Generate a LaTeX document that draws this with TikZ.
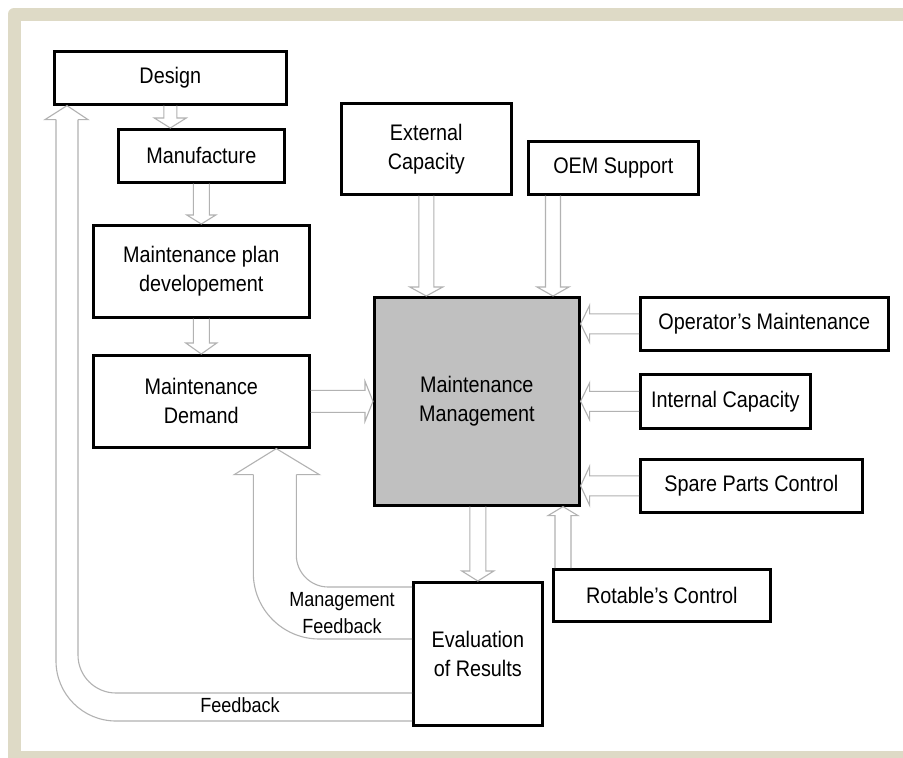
\documentclass[tikz,border=0pt]{standalone}
\usepackage{fontspec}
\setmainfont[FakeStretch=0.88]{Liberation Sans}
\usetikzlibrary{calc}

\definecolor{framebeige}{RGB}{222,218,198}
\definecolor{mgmtgray}{RGB}{192,192,192}
\definecolor{arrowgray}{RGB}{178,178,178}

% hollow block arrow from coordinate #1 to tip coordinate #2
% #3 half shaft width, #4 half head width, #5 head length
\newcommand\blockarrow[5]{%
  \path ($(#2)!#5!(#1)$) coordinate (ba-h);
  \draw[barrow] ($(#1)!#3!90:(#2)$) -- ($(ba-h)!#3!90:(#2)$)
    -- ($(ba-h)!#4!90:(#2)$) -- (#2) -- ($(ba-h)!#4!-90:(#2)$)
    -- ($(ba-h)!#3!-90:(#2)$) -- ($(#1)!#3!-90:(#2)$);
}

\begin{document}
\begin{tikzpicture}[x=1pt,y=-1pt,
  box/.style={draw=black, line width=2.6pt, fill=white, align=center,
    inner sep=0pt, anchor=north west,
    font=\fontsize{22.5}{29}\selectfont},
  lbl/.style={align=center, inner sep=0pt,
    font=\fontsize{20.5}{26.5}\selectfont},
  barrow/.style={draw=arrowgray, line width=1.1pt, line join=miter}]

\useasboundingbox (0,0) rectangle (903,758);
\clip (0,0) rectangle (903,758);

% frame: beige border open to the right, white sheet inside
\fill[framebeige, rounded corners=6pt] (8,8) rectangle (960,800);
\fill[white] (21,21) rectangle (903,751);

% boxes
\node[box, minimum width=232pt, minimum height=53pt] (design) at (53,50) {Design};
\node[box, minimum width=166pt, minimum height=53pt] (manuf) at (117,128) {Manufacture};
\node[box, minimum width=216pt, minimum height=92pt] (plan) at (92,224) {Maintenance plan\\developement};
\node[box, minimum width=216pt, minimum height=92pt] (demand) at (92,354) {Maintenance\\Demand};
\node[box, minimum width=170pt, minimum height=91pt] (ext) at (340,102) {External\\Capacity};
\node[box, minimum width=170pt, minimum height=53pt] (oem) at (527,140) {OEM Support};
\node[box, fill=mgmtgray, minimum width=205pt, minimum height=208pt] (mm) at (373,296) {Maintenance\\Management};
\node[box, minimum width=248pt, minimum height=53pt] (op) at (639,296) {Operator’s Maintenance};
\node[box, minimum width=170pt, minimum height=54pt] (int) at (639,373) {Internal Capacity};
\node[box, minimum width=222pt, minimum height=53pt] (spare) at (639,458) {Spare Parts Control};
\node[box, minimum width=217pt, minimum height=52pt] (rot) at (552,568) {Rotable’s Control};
\node[box, minimum width=129pt, minimum height=143pt] (eval) at (412,581) {Evaluation\\of Results};

% end points of the straight block arrows
\coordinate (dm-s) at (design.south);
\coordinate (dm-t) at (design.south |- manuf.north);
\coordinate (oem-s) at ($(oem.south west)+(26,0)$);
\coordinate (oem-t) at (oem-s |- mm.north);
\coordinate (rot-s) at ($(rot.north west)+(11,0)$);
\coordinate (rot-t) at (rot-s |- mm.south);
\coordinate (ext-t) at (ext.south |- mm.north);
\coordinate (op-t) at (mm.east |- op.west);
\coordinate (int-t) at (mm.east |- int.west);
\coordinate (spare-t) at (mm.east |- spare.west);
\coordinate (dem-t) at (mm.west |- demand.east);
\coordinate (ev-s) at (eval.north |- mm.south);

\blockarrow{dm-s}{dm-t}{6.5pt}{16pt}{10pt}
\blockarrow{manuf.south}{plan.north}{8pt}{14.5pt}{9pt}
\blockarrow{plan.south}{demand.north}{8pt}{15.5pt}{11pt}
\blockarrow{ext.south}{ext-t}{7.5pt}{16.5pt}{9pt}
\blockarrow{oem-s}{oem-t}{7.5pt}{16pt}{9pt}
\blockarrow{op.west}{op-t}{10pt}{18.5pt}{9pt}
\blockarrow{int.west}{int-t}{10pt}{18.5pt}{9pt}
\blockarrow{spare.west}{spare-t}{10pt}{19.5pt}{9pt}
\blockarrow{demand.east}{dem-t}{11pt}{20pt}{8pt}
\blockarrow{ev-s}{eval.north}{8pt}{16pt}{10pt}
\blockarrow{rot-s}{rot-t}{8pt}{15pt}{9pt}

% management feedback: evaluation back to maintenance demand
\coordinate (mf-a) at ($(eval.north west)+(0,6)$);
\coordinate (mf-b) at ($(eval.north west)+(0,58)$);
\coordinate (mf-t) at ($(demand.south)+(75,0)$);
\draw[barrow, rounded corners=32pt] (mf-a) -| ($(mf-t)+(20,26)$);
\draw[barrow, rounded corners=66pt] (mf-b) -| ($(mf-t)+(-23,26)$);
\draw[barrow] ($(mf-t)+(20,26)$) -- ($(mf-t)+(43,26)$) -- (mf-t)
  -- ($(mf-t)+(-42,26)$) -- ($(mf-t)+(-23,26)$);
\node[lbl] (mf-label) at (342,613) {Management\\Feedback};

% feedback: evaluation back to design
\coordinate (fb-a) at ($(eval.north west)+(0,112)$);
\coordinate (fb-b) at ($(eval.north west)+(0,140)$);
\coordinate (fb-t) at ($(design.south west)+(14,0)$);
\draw[barrow, rounded corners=38pt] (fb-a) -| ($(fb-t)+(11,14)$);
\draw[barrow, rounded corners=60pt] (fb-b) -| ($(fb-t)+(-11,14)$);
\draw[barrow] ($(fb-t)+(11,14)$) -- ($(fb-t)+(21,14)$) -- (fb-t)
  -- ($(fb-t)+(-22,14)$) -- ($(fb-t)+(-11,14)$);
\node[lbl] (fb-label) at (240,705) {Feedback};

\end{tikzpicture}
\end{document}
